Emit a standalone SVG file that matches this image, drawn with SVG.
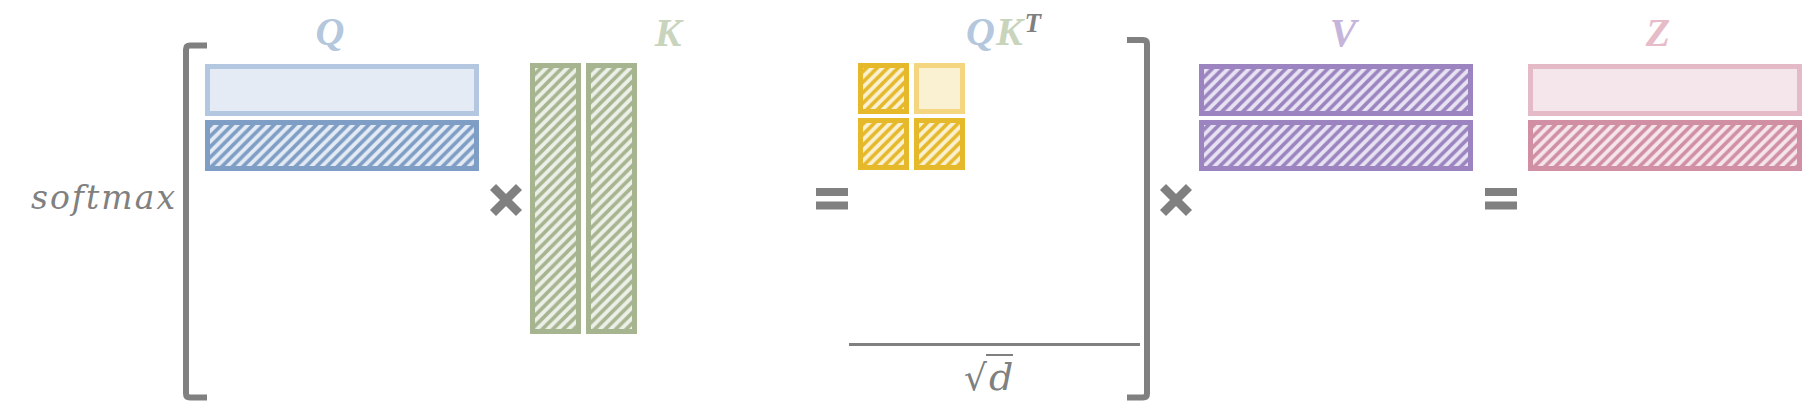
<svg xmlns="http://www.w3.org/2000/svg" width="1802" height="402" viewBox="0 0 1802 402">
<style>
.gray{fill:#808080}
.br{fill:none;stroke:#808080;stroke-width:6;stroke-linejoin:round}
.op{stroke:#808080;stroke-width:8.5}
.lbl{font-family:"Liberation Serif",serif;font-style:italic;font-weight:bold;font-size:40px;text-anchor:middle}
.mi{font-family:"DejaVu Serif","Liberation Serif",serif;font-style:italic;fill:#808080}
.cell{stroke-width:5}
</style>
<defs>
<pattern id="hQ" patternUnits="userSpaceOnUse" width="10.5" height="10.5"><rect width="10.5" height="10.5" fill="#e4ebf4"/><path d="M-2,2 L2,-2 M0,10.5 L10.5,0 M8.5,12.5 L12.5,8.5" stroke="#7f9ec5" stroke-width="3.6"/></pattern>
<pattern id="hK" patternUnits="userSpaceOnUse" width="10.5" height="10.5"><rect width="10.5" height="10.5" fill="#edf0e9"/><path d="M-2,2 L2,-2 M0,10.5 L10.5,0 M8.5,12.5 L12.5,8.5" stroke="#a6b58f" stroke-width="3.6"/></pattern>
<pattern id="hY" patternUnits="userSpaceOnUse" width="10.5" height="10.5"><rect width="10.5" height="10.5" fill="#faf1d3"/><path d="M-2,2 L2,-2 M0,10.5 L10.5,0 M8.5,12.5 L12.5,8.5" stroke="#e6b92b" stroke-width="3.6"/></pattern>
<pattern id="hV" patternUnits="userSpaceOnUse" width="10.5" height="10.5"><rect width="10.5" height="10.5" fill="#e8e3f2"/><path d="M-2,2 L2,-2 M0,10.5 L10.5,0 M8.5,12.5 L12.5,8.5" stroke="#9b84c0" stroke-width="3.6"/></pattern>
<pattern id="hZ" patternUnits="userSpaceOnUse" width="10.5" height="10.5"><rect width="10.5" height="10.5" fill="#f5e6eb"/><path d="M-2,2 L2,-2 M0,10.5 L10.5,0 M8.5,12.5 L12.5,8.5" stroke="#d18fa4" stroke-width="3.6"/></pattern>
</defs>
<rect width="1802" height="402" fill="#ffffff"/>

<g id="softmax"><text class="mi" x="31" y="209" font-size="33" textLength="144" lengthAdjust="spacing">softmax</text></g>

<g id="brackets">
<path class="br" d="M207,45.5 H190 Q186,45.5 186,49.5 V393.5 Q186,397.5 190,397.5 H207"/>
<path class="br" d="M1127,40 H1143 Q1147,40 1147,44 V393.5 Q1147,397.5 1143,397.5 H1127"/>
</g>

<g id="Q">
<text class="lbl" x="330" y="45" fill="#b4c7dc">Q</text>
<rect class="cell" x="207.5" y="66.5" width="269" height="47" fill="#e4ebf4" stroke="#b4c7e0"/>
<rect class="cell" x="207.5" y="122.5" width="269" height="46" fill="url(#hQ)" stroke="#7f9ec5"/>
</g>

<g id="times1"><path class="op" d="M493,187 L519,213 M519,187 L493,213"/></g>

<g id="K">
<text class="lbl" x="668" y="46" fill="#c9d4bd">K</text>
<rect class="cell" x="532.5" y="65.5" width="46" height="266" fill="url(#hK)" stroke="#a6b58f"/>
<rect class="cell" x="588.5" y="65.5" width="46" height="266" fill="url(#hK)" stroke="#a6b58f"/>
</g>

<g id="equals1"><rect class="gray" x="816" y="188" width="32" height="8"/><rect class="gray" x="816" y="201.5" width="32" height="8"/></g>

<g id="QKT">
<text x="966" y="45" font-family="Liberation Serif, serif" font-style="italic" font-weight="bold" font-size="40"><tspan fill="#b4c7dc">Q</tspan><tspan fill="#c9d4bd" dx="1">K</tspan><tspan fill="#808080" font-size="27" dx="2" dy="-13">T</tspan></text>
<rect class="cell" x="860.5" y="65.5" width="46" height="46" fill="url(#hY)" stroke="#e6b92b"/>
<rect class="cell" x="916.5" y="65.5" width="46" height="46" fill="#faf1d3" stroke="#f3d67f"/>
<rect class="cell" x="860.5" y="120.5" width="46" height="47" fill="url(#hY)" stroke="#e6b92b"/>
<rect class="cell" x="916.5" y="120.5" width="46" height="47" fill="url(#hY)" stroke="#e6b92b"/>
</g>

<g id="fraction">
<line x1="849" y1="344.5" x2="1140" y2="344.5" stroke="#808080" stroke-width="3"/>
<text x="964" y="390" font-family="DejaVu Serif, serif" font-size="36" fill="#808080">√</text>
<line x1="986" y1="355" x2="1013" y2="355" stroke="#808080" stroke-width="2"/>
<text class="mi" x="989" y="390" font-size="38">d</text>
</g>

<g id="times2"><path class="op" d="M1163,187 L1189,213 M1189,187 L1163,213"/></g>

<g id="V">
<text class="lbl" x="1343" y="46" fill="#c5b5da">V</text>
<rect class="cell" x="1201.5" y="66.5" width="269" height="47" fill="url(#hV)" stroke="#9b84c0"/>
<rect class="cell" x="1201.5" y="122.5" width="269" height="46" fill="url(#hV)" stroke="#9b84c0"/>
</g>

<g id="equals2"><rect class="gray" x="1485" y="188" width="32" height="8"/><rect class="gray" x="1485" y="201.5" width="32" height="8"/></g>

<g id="Z">
<text class="lbl" x="1658" y="46" fill="#e6bcc9">Z</text>
<rect class="cell" x="1530.5" y="66.5" width="269" height="47" fill="#f5e6eb" stroke="#e5bac7"/>
<rect class="cell" x="1530.5" y="122.5" width="269" height="46" fill="url(#hZ)" stroke="#d18fa4"/>
</g>

<g id="connectors"></g>
</svg>
